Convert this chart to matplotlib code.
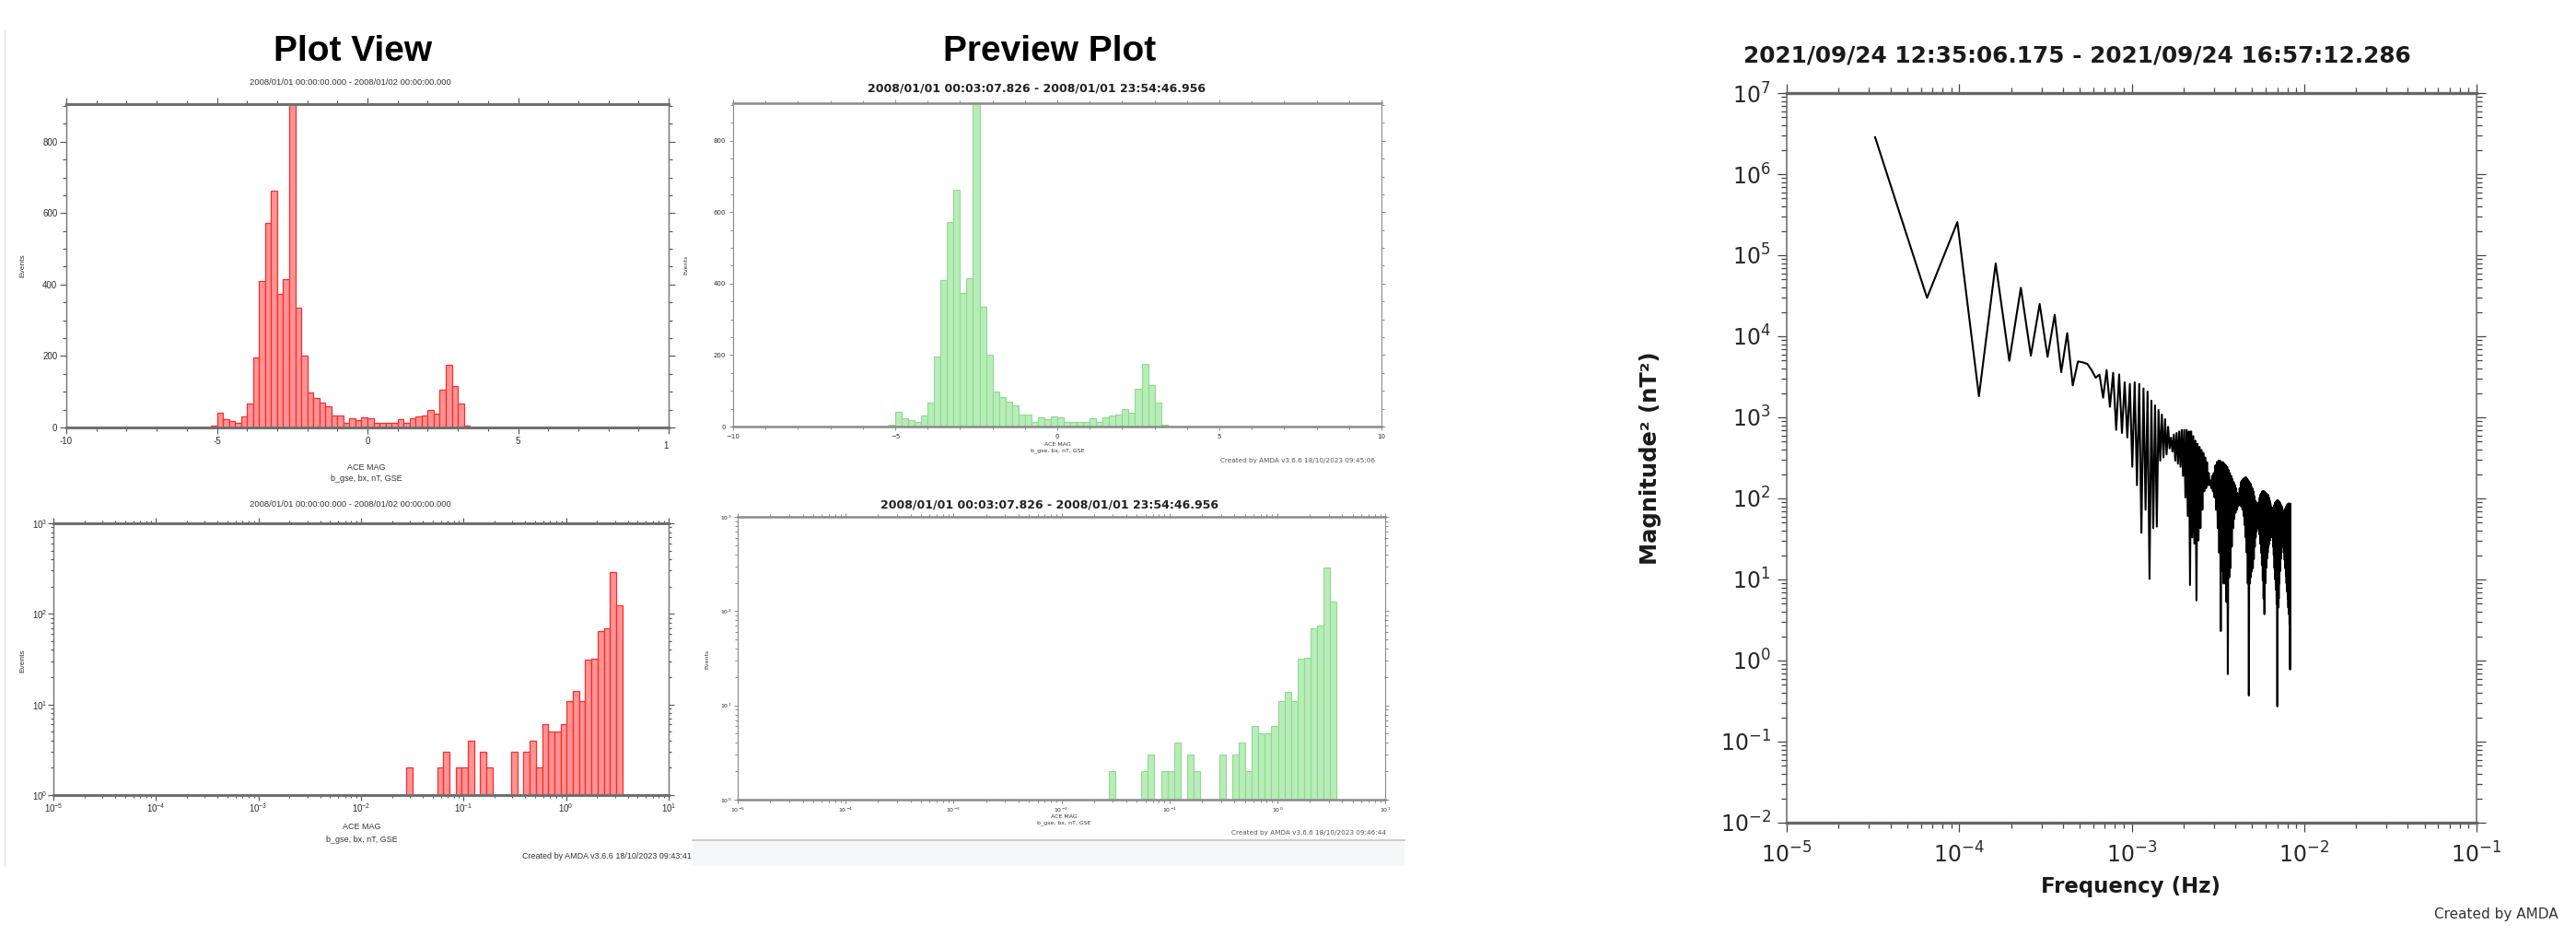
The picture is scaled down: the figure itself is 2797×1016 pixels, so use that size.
import numpy as np
import matplotlib
matplotlib.use("Agg")
import matplotlib.pyplot as plt
from matplotlib import ticker
from matplotlib.patches import Rectangle
from matplotlib.lines import Line2D

W, H = 2797, 1016

# ACE MAG bx histogram, linear bins of 0.2 nT
bx_edges = np.round(np.arange(-5.2, 3.41, 0.2), 1)
bx_counts = [5, 40, 23, 17, 12, 32, 66, 195, 409, 572, 662, 375, 415, 930, 336,
             202, 98, 83, 70, 60, 34, 33, 12, 27, 21, 29, 26, 12, 13, 14, 13,
             23, 12, 27, 32, 33, 49, 39, 105, 175, 115, 66, 6]

# same parameter, logarithmic bins
bx_log_edges = np.logspace(-1.56, 0.548, 36)
bx_log_counts = [2, 1, 0, 1, 0, 2, 3, 0, 2, 2, 4, 1, 3, 2, 1, 1, 1, 3, 0, 3,
                 4, 2, 6, 5, 5, 6, 11, 14, 11, 31, 32, 65, 70, 290, 125]

# power spectrum, 1-min samples zero-padded to 512 points
freq = np.arange(1, 257) / 30720.0
mag_log10 = [
    6.455, 4.474, 5.409, 3.261, 4.898, 3.697, 4.598, 3.761, 4.398, 3.746,
    4.265, 3.557, 4.038, 3.394, 3.689, 3.678, 3.659, 3.583, 3.489, 3.527,
    3.242, 3.583, 3.130, 3.550, 2.845, 3.530, 2.807, 3.432, 2.750, 3.413,
    2.390, 3.432, 2.163, 3.413, 1.576, 3.356, 1.860, 3.318, 1.007, 3.205,
    1.633, 3.148, 1.652, 3.091, 2.466, 3.034, 2.504, 2.977, 2.542, 2.883,
    2.617, 2.750, 2.579, 2.788, 2.466, 2.807, 2.428, 2.826, 2.390, 2.845,
    2.277, 2.845, 2.011, 2.845, 1.784, 2.826, 0.932, 2.826, 1.519, 2.769,
    1.443, 2.712, 0.742, 2.674, 1.481, 2.636, 1.633, 2.598, 1.860, 2.561,
    2.087, 2.504, 2.125, 2.447, 2.163, 2.314, 2.163, 2.220, 2.125, 2.277,
    2.087, 2.314, 2.011, 2.409, 1.860, 2.447, 1.633, 2.466, 1.330, 2.466,
    0.364, 2.447, 1.102, 2.447, 0.951, 2.428, 0.951, 2.409, 0.723, 2.390,
    -0.167, 2.352, 1.026, 2.314, 1.140, 2.277, 1.405, 2.239, 1.633, 2.201,
    1.746, 2.163, 1.822, 2.125, 1.860, 2.068, 1.898, 2.049, 1.917, 2.125,
    1.917, 2.201, 1.898, 2.220, 1.860, 2.239, 1.784, 2.246, 1.670, 2.258,
    1.519, 2.258, 1.330, 2.239, 0.951, 2.220, -0.432, 2.201, 0.951, 2.182,
    1.026, 2.144, 1.102, 2.125, 1.140, 2.087, 1.254, 2.030, 1.405, 1.974,
    1.519, 1.955, 1.595, 1.936, 1.633, 1.928, 1.633, 1.955, 1.557, 2.011,
    1.443, 2.049, 1.330, 2.068, 1.178, 2.087, 0.989, 2.087, 0.761, 2.087,
    0.572, 2.079, 0.951, 2.068, 1.140, 2.057, 1.254, 2.049, 1.330, 2.042,
    1.405, 2.011, 1.443, 1.974, 1.481, 1.936, 1.519, 1.898, 1.557, 1.860,
    1.519, 1.870, 1.405, 1.890, 1.300, 1.917, 1.140, 1.940, 1.000, 1.955,
    0.875, 1.966, 0.700, 1.974, -0.565, 1.974, 0.650, 1.970, 0.761, 1.960,
    0.951, 1.950, 1.102, 1.935, 1.250, 1.917, 1.330, 1.900, 1.400, 1.870,
    1.443, 1.845, 1.400, 1.822, 1.330, 1.830, 1.240, 1.860, 1.140, 1.880,
    1.050, 1.900, 0.951, 1.915, 0.850, 1.925, 0.761, 1.930, 0.650, 1.936,
    0.572, 1.936, 0.450, 1.936, -0.110, 1.930,
]
magnitude = 10.0 ** np.array(mag_log10)

plot_view_range = "2008/01/01 00:00:00.000 - 2008/01/02 00:00:00.000"
preview_range = "2008/01/01 00:03:07.826 - 2008/01/01 23:54:46.956"
spectrum_range = "2021/09/24 12:35:06.175 - 2021/09/24 16:57:12.286"

SMALL = "Liberation Sans"   # compact face for the Plot View panels

RED_FACE, RED_EDGE = "#ff9494", "#ff2a2a"
GREEN_FACE, GREEN_EDGE = "#b8ecb8", "#8edb8e"

fig = plt.figure(figsize=(W / 100, H / 100), dpi=100)
fig.patch.set_facecolor("white")


def add_ax(l, t, r, b):
    return fig.add_axes([l / W, 1 - b / H, (r - l) / W, (b - t) / H])


def ftext(x, y, s, **kw):
    kw.setdefault("ha", "center")
    kw.setdefault("va", "center")
    return fig.text(x / W, 1 - y / H, s, **kw)


def frame(ax, tb_lw, lr_lw, color, tick_color, major, minor, width, pad, size):
    for s in ("top", "bottom"):
        ax.spines[s].set_linewidth(tb_lw)
        ax.spines[s].set_color(color)
    for s in ("left", "right"):
        ax.spines[s].set_linewidth(lr_lw)
        ax.spines[s].set_color(color)
    ax.tick_params(which="both", direction="out", top=True, right=True,
                   color=tick_color, width=width, pad=pad, labelsize=size,
                   labelcolor="#2a2a2a")
    ax.tick_params(which="major", length=major)
    ax.tick_params(which="minor", length=minor)


def linear_hist(ax, face, edge, lw):
    ax.bar(bx_edges[:-1], bx_counts, width=np.diff(bx_edges), align="edge",
           facecolor=face, edgecolor=edge, linewidth=lw)
    ax.set_xlim(-10, 10)
    ax.set_ylim(0, 905)
    ax.xaxis.set_major_locator(ticker.MultipleLocator(5))
    ax.xaxis.set_minor_locator(ticker.MultipleLocator(1))
    ax.yaxis.set_major_locator(ticker.MultipleLocator(200))
    ax.yaxis.set_minor_locator(ticker.MultipleLocator(50))


def log_hist(ax, face, edge, lw):
    ax.set_xscale("log")
    ax.set_yscale("log")
    ax.bar(bx_log_edges[:-1], bx_log_counts, width=np.diff(bx_log_edges),
           align="edge", facecolor=face, edgecolor=edge, linewidth=lw)
    ax.set_xlim(1e-5, 1e1)
    ax.set_ylim(1, 1e3)
    for axis in (ax.xaxis, ax.yaxis):
        axis.set_major_locator(ticker.LogLocator(base=10, numticks=20))
        axis.set_minor_locator(ticker.LogLocator(base=10, subs=np.arange(2, 10), numticks=20))
        axis.set_minor_formatter(ticker.NullFormatter())


# ---- Plot View (red) ----
ax1 = add_ax(72, 113, 726, 464)
linear_hist(ax1, RED_FACE, RED_EDGE, 0.9)
# the "10" at the right end is cut down to "1" by the panel border
ax1.xaxis.set_major_formatter(ticker.FuncFormatter(lambda v, p: "" if v >= 10 else "%d" % v))
frame(ax1, 2.2, 1.0, "#707070", "#555555", 5, 3, 0.8, 2, 7)

ax3 = add_ax(58, 568, 726, 863)
log_hist(ax3, RED_FACE, RED_EDGE, 0.9)
frame(ax3, 2.2, 1.0, "#707070", "#555555", 4, 2.5, 0.8, 1, 7)

# ---- Preview Plot (green) ----
ax2 = add_ax(796, 112, 1500, 463)
linear_hist(ax2, GREEN_FACE, GREEN_EDGE, 0.8)
frame(ax2, 1.8, 0.8, "#8a8a8a", "#777777", 3, 2, 0.6, 3, 5)

ax4 = add_ax(801, 561, 1504, 868)
log_hist(ax4, GREEN_FACE, GREEN_EDGE, 0.8)
frame(ax4, 1.8, 0.8, "#8a8a8a", "#777777", 3, 2, 0.6, 2, 4.5)

# ---- spectrum ----
ax5 = add_ax(1940, 101, 2689, 893)
ax5.loglog(freq, magnitude, color="black", linewidth=1.5)
ax5.set_xlim(1e-5, 1e-1)
ax5.set_ylim(1e-2, 1e7)
for axis in (ax5.xaxis, ax5.yaxis):
    axis.set_major_locator(ticker.LogLocator(base=10, numticks=20))
    axis.set_minor_locator(ticker.LogLocator(base=10, subs=np.arange(2, 10), numticks=20))
    axis.set_minor_formatter(ticker.NullFormatter())
frame(ax5, 2.4, 1.1, "#666666", "#444444", 7.5, 4.3, 0.9, 8, 17)
ax5.tick_params(axis="y", pad=5)

# ---- text ----
ftext(383, 56, "Plot View", family="Liberation Sans", fontweight="bold", fontsize=28)
ftext(1140, 56, "Preview Plot", family="Liberation Sans", fontweight="bold", fontsize=28)

ftext(380, 89, plot_view_range, family=SMALL, fontsize=6.8, color="#333333")
ftext(380, 548, plot_view_range, family=SMALL, fontsize=6.8, color="#333333")
ftext(1126, 96, preview_range, fontweight="bold", fontsize=9, color="#222222")
ftext(1140, 548, preview_range, fontweight="bold", fontsize=9, color="#222222")

for x, y, fam, fs in [(25, 288, SMALL, 6), (25, 717, SMALL, 6),
                      (745, 287, "DejaVu Sans", 4.5), (768, 715, "DejaVu Sans", 4.5)]:
    ftext(x, y, "Events", family=fam, fontsize=fs, rotation=90, color="#333333")

for x, y in [(398, 507), (393, 898)]:
    ftext(x, y, "ACE MAG", family=SMALL, fontsize=6.5, color="#333333")
    ftext(x, y + 13, "b_gse, bx, nT, GSE", family=SMALL, fontsize=6.5, color="#333333")
for x, y in [(1148, 482), (1155, 886)]:
    ftext(x, y, "ACE MAG", fontsize=4.5, color="#333333")
    ftext(x, y + 7.5, "b_gse, bx, nT, GSE", fontsize=4.5, color="#333333")

ftext(723, 484, "1", family=SMALL, fontsize=7, color="#2a2a2a")

ftext(751, 930, "Created by AMDA v3.6.6 18/10/2023 09:43:41", family=SMALL,
      fontsize=6.5, ha="right", color="#333333")
ftext(1325, 500, "Created by AMDA v3.6.6 18/10/2023 09:45:06", fontsize=5.2,
      ha="left", color="#555555")
ftext(1337, 904, "Created by AMDA v3.6.6 18/10/2023 09:46:44", fontsize=5.2,
      ha="left", color="#555555")

ftext(2255, 61, spectrum_range, fontweight="bold", fontsize=17.8, color="#1a1a1a")
ftext(2313, 963, "Frequency (Hz)", fontweight="bold", fontsize=16.5, color="#1a1a1a")
ftext(1792, 497, "Magnitude² (nT²)", fontweight="bold", fontsize=17.5,
      rotation=90, color="#1a1a1a")
ftext(2643, 993, "Created by AMDA", fontsize=11, ha="left", color="#333333")

# screenshot borders on the left side
fig.add_artist(Rectangle((752 / W, 1 - 940 / H), (1525 - 752) / W, 28 / H,
                         transform=fig.transFigure, facecolor="#f6f7f9",
                         edgecolor="none", zorder=0))
fig.add_artist(Line2D([752 / W, 1525 / W], [1 - 912 / H] * 2,
                      transform=fig.transFigure, color="#c4c4c4", linewidth=1.2))
fig.add_artist(Line2D([5 / W] * 2, [1 - 32 / H, 1 - 940 / H],
                      transform=fig.transFigure, color="#e2e2e2", linewidth=1.0))

# compact face for the red panel tick labels
fig.canvas.draw()
for ax in (ax1, ax3):
    for lab in ax.get_xticklabels(which="both") + ax.get_yticklabels(which="both"):
        lab.set_fontfamily(SMALL)

fig.savefig("out.png", dpi=100)
